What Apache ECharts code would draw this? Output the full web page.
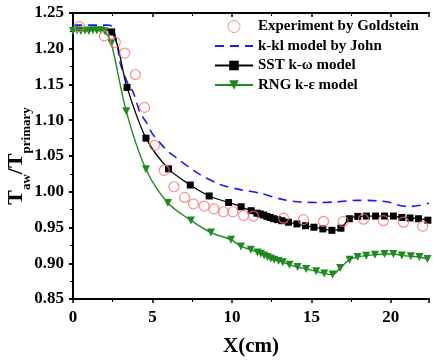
<!DOCTYPE html>
<html>
<head>
<meta charset="utf-8">
<script src="https://cdn.jsdelivr.net/npm/echarts@6/dist/echarts.min.js"></script>
<style>
  html, body { margin: 0; padding: 0; background: #fff; }
  #main { width: 435px; height: 363px; }
</style>
</head>
<body>
<div id="main"></div>
<script>
// experiment by Goldstein (open circles)
var expX = [0.4, 1.97, 2.66, 3.25, 3.92, 4.5, 5.13, 5.74, 6.35, 7.02, 7.58, 8.26, 8.87, 9.47, 10.06, 10.73, 11.36, 13.25, 14.5, 15.76, 17.0, 18.28, 19.53, 20.8, 22.0];
var expY = [1.231, 1.218, 1.209, 1.194, 1.164, 1.118, 1.065, 1.030, 1.007, 0.992, 0.983, 0.980, 0.976, 0.972, 0.972, 0.967, 0.966, 0.963, 0.961, 0.9585, 0.9585, 0.9616, 0.9595, 0.9574, 0.952];

// k-kl model by John (dashed blue)
var kklX = [0, 2.2, 2.45, 2.77, 2.97, 3.4, 3.81, 4.23, 4.65, 4.97, 5.49, 6.0, 6.54, 7.38, 8.0, 9.26, 10.52, 11.78, 13.04, 14.3, 15.4, 16.4, 17.2, 17.86, 19.12, 19.96, 20.6, 21.2, 21.84, 22.4];
var kklY = [1.233, 1.233, 1.231, 1.208, 1.180, 1.154, 1.138, 1.110, 1.096, 1.082, 1.068, 1.056, 1.047, 1.033, 1.024, 1.010, 1.003, 0.998, 0.990, 0.9856, 0.985, 0.9856, 0.987, 0.988, 0.9874, 0.985, 0.9804, 0.9795, 0.981, 0.984];

// SST k-w model (black squares)
var sstX = [0, 1.2, 2.43, 3.40, 4.59, 6.01, 7.38, 8.57, 9.79, 10.58, 11.21, 11.57, 11.78, 11.99, 12.2, 12.41, 12.62, 12.87, 13.14, 13.56, 14.09, 14.63, 15.16, 15.72, 16.29, 16.86, 17.39, 17.92, 18.46, 19.04, 19.6, 20.16, 20.69, 21.21, 21.74, 22.33];
var sstY = [1.228, 1.228, 1.2235, 1.146, 1.075, 1.032, 1.0094, 0.9941, 0.985, 0.979, 0.9735, 0.970, 0.969, 0.9675, 0.9655, 0.964, 0.9623, 0.961, 0.9595, 0.9574, 0.955, 0.9525, 0.9504, 0.948, 0.946, 0.949, 0.9623, 0.9655, 0.966, 0.966, 0.966, 0.966, 0.964, 0.9633, 0.9623, 0.9602];

// RNG k-e model (green triangles)
var rngX = [0, 0.25, 0.5, 0.75, 1.0, 1.25, 1.5, 1.75, 2.0, 2.41, 3.35, 4.59, 5.97, 7.42, 8.68, 9.94, 10.57, 11.19, 11.61, 11.82, 12.03, 12.24, 12.45, 12.66, 12.93, 13.2, 13.62, 14.13, 14.67, 15.3, 15.81, 16.33, 16.81, 17.4, 17.9, 18.45, 19.0, 19.6, 20.16, 20.69, 21.26, 21.8, 22.3];
var rngY = [1.225, 1.226, 1.225, 1.2255, 1.225, 1.226, 1.2255, 1.226, 1.2245, 1.2077, 1.1127, 1.0314, 0.9842, 0.9599, 0.9429, 0.933, 0.9236, 0.919, 0.9152, 0.9134, 0.911, 0.9088, 0.9068, 0.905, 0.9032, 0.9013, 0.898, 0.8948, 0.892, 0.8887, 0.8855, 0.8841, 0.8934, 0.905, 0.9088, 0.9106, 0.912, 0.913, 0.913, 0.911, 0.9097, 0.9088, 0.906];

var xTicks = [0, 5, 10, 15, 20];
var yTicks = [0.85, 0.90, 0.95, 1.00, 1.05, 1.10, 1.15, 1.20, 1.25];

function pairs(xs, ys) {
    return xs.map(function (x, i) { return [x, ys[i]]; });
}

var font = 'Liberation Serif';
var myChart = echarts.init(document.getElementById('main'));

var tickText = {
    color: '#000',
    fontFamily: font,
    fontWeight: 'bold',
    fontSize: 17
};

// the SST curve shows no markers on its flat start, hidden under the green ones
var sstData = pairs(sstX, sstY).map(function (p) {
    return p[0] < 2 ? { value: p, symbol: 'none' } : p;
});

var option = {
    animation: false,
    backgroundColor: '#fff',
    grid: {
        left: 73,
        right: 6,
        top: 13,
        bottom: 64,
        outerBoundsMode: 'none'
    },
    legend: {
        orient: 'vertical',
        left: 209,
        top: 14,
        itemWidth: 38,
        itemHeight: 12,
        itemGap: 4.5,
        textStyle: {
            color: '#000',
            fontFamily: font,
            fontWeight: 'bold',
            fontSize: 15
        },
        data: [
            { name: 'Experiment by Goldstein', itemStyle: { borderWidth: 1 } },
            { name: 'k-kl model by John', itemStyle: { opacity: 0 } },
            'SST k-ω model',
            'RNG k-ε model'
        ]
    },
    xAxis: [{
        type: 'value',
        min: 0,
        max: 22.4,
        interval: 5,
        name: 'X(cm)',
        nameLocation: 'middle',
        nameGap: 37,
        nameMoveOverlap: false,
        nameTextStyle: {
            color: '#000',
            fontFamily: font,
            fontWeight: 'bold',
            fontSize: 21
        },
        axisLine: { lineStyle: { color: '#000', width: 2 } },
        axisTick: { length: 4, lineStyle: { width: 1.5 } },
        minorTick: { show: true, splitNumber: 2, length: 3 },
        axisLabel: Object.assign({
            margin: 10,
            showMaxLabel: false,
            formatter: function (v) { return xTicks.indexOf(v) >= 0 ? v : ''; }
        }, tickText),
        splitLine: { show: false }
    }, {
        type: 'value',
        position: 'top',
        min: 0,
        max: 22.4,
        interval: 5,
        axisLine: { lineStyle: { color: '#000', width: 2 } },
        axisTick: { inside: true, length: 4, lineStyle: { width: 1.5 } },
        minorTick: { show: true, splitNumber: 2, length: 3 },
        axisLabel: { show: false },
        splitLine: { show: false }
    }],
    yAxis: [{
        type: 'value',
        min: 0.85,
        max: 1.25,
        interval: 0.05,
        name: '{b|T}{s|aw}{b|/T}{s|primary}',
        nameLocation: 'middle',
        nameGap: 46,
        nameMoveOverlap: false,
        nameTextStyle: {
            color: '#000',
            fontFamily: font,
            fontWeight: 'bold',
            rich: {
                b: { fontFamily: font, fontWeight: 'bold', fontSize: 22, color: '#000', lineHeight: 24, verticalAlign: 'bottom' },
                s: { fontFamily: font, fontWeight: 'bold', fontSize: 13, color: '#000', lineHeight: 24, verticalAlign: 'bottom', padding: [0, 0, -6, 0] }
            }
        },
        axisLine: { lineStyle: { color: '#000', width: 2 } },
        axisTick: { length: 4, lineStyle: { width: 1.5 } },
        minorTick: { show: true, splitNumber: 2, length: 3 },
        axisLabel: Object.assign({
            margin: 9,
            formatter: function (v) { return v.toFixed(2); }
        }, tickText),
        splitLine: { show: false }
    }, {
        type: 'value',
        position: 'right',
        min: 0.85,
        max: 1.25,
        interval: 0.05,
        axisLine: { show: true, lineStyle: { color: '#000', width: 2 } },
        axisTick: { show: true, inside: true, length: 4, lineStyle: { width: 1.5 } },
        minorTick: { show: true, splitNumber: 2, length: 3 },
        axisLabel: { show: false },
        splitLine: { show: false }
    }],
    series: [{
        name: 'Experiment by Goldstein',
        type: 'scatter',
        data: pairs(expX, expY),
        symbol: 'circle',
        symbolSize: 10,
        itemStyle: {
            color: 'rgba(255,255,255,0)',
            borderColor: '#ff7070',
            borderWidth: 1.2
        },
        z: 5
    }, {
        name: 'k-kl model by John',
        type: 'line',
        data: pairs(kklX, kklY),
        smooth: 0.3,
        symbol: 'none',
        lineStyle: {
            color: '#1a1aff',
            width: 1.6,
            type: [9, 6]
        },
        itemStyle: { color: '#1a1aff' },
        z: 3
    }, {
        name: 'SST k-ω model',
        type: 'line',
        data: sstData,
        smooth: 0.3,
        symbol: 'rect',
        symbolSize: 7,
        showAllSymbol: true,
        lineStyle: { color: '#000', width: 1.3 },
        itemStyle: { color: '#000', borderWidth: 0 },
        z: 4
    }, {
        name: 'RNG k-ε model',
        type: 'line',
        data: pairs(rngX, rngY),
        smooth: 0.3,
        symbol: 'triangle',
        symbolRotate: 180,
        symbolSize: 8,
        showAllSymbol: true,
        lineStyle: { color: '#1f8a1f', width: 1.4 },
        itemStyle: { color: '#1f8a1f', borderWidth: 0 },
        z: 4
    }]
};

myChart.setOption(option);
</script>
</body>
</html>
